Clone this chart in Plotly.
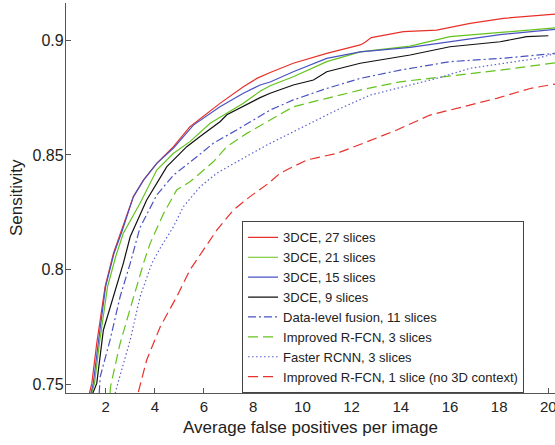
import plotly.graph_objects as go

# ---- data ----
names = [
    "3DCE, 27 slices",
    "3DCE, 21 slices",
    "3DCE, 15 slices",
    "3DCE, 9 slices",
    "Data-level fusion, 11 slices",
    "Improved R-FCN, 3 slices",
    "Faster RCNN, 3 slices",
    "Improved R-FCN, 1 slice (no 3D context)",
]

fp_3dce27 = [1.34, 1.44, 1.64, 1.98, 2.32, 2.66, 3.13, 3.54, 4.08, 4.76, 5.43, 6.65, 7.6, 8.15, 8.69, 9.63,
             10.99, 12.35, 12.55, 12.8, 13.7, 14.11, 15.46, 16.82, 18.17, 19.8, 20.3]
se_3dce27 = [0.746, 0.7503, 0.7678, 0.7925, 0.8071, 0.8172, 0.8318, 0.839, 0.8463, 0.8536, 0.8623, 0.8725, 0.8798,
             0.8834, 0.886, 0.89, 0.8943, 0.898, 0.8992, 0.9012, 0.903, 0.9038, 0.9045, 0.9074, 0.9096, 0.9113, 0.9115]

fp_3dce21 = [1.43, 1.55, 1.75, 2.08, 2.42, 2.72, 3.4, 4.08, 4.76, 5.43, 6.25, 7.6, 8.28, 8.69, 9.63, 10.99,
             12.35, 14.38, 16.0, 18.04, 20.3]
se_3dce21 = [0.746, 0.7503, 0.7678, 0.7925, 0.806, 0.8158, 0.8289, 0.8434, 0.8507, 0.8558, 0.8638, 0.8725, 0.8778,
             0.8802, 0.8841, 0.8907, 0.895, 0.8975, 0.9016, 0.9035, 0.9055]

fp_3dce15 = [1.4, 1.5, 1.7, 2.0, 2.34, 2.66, 3.13, 3.54, 4.08, 4.76, 5.57, 6.65, 7.6, 8.28, 8.69, 9.63, 10.99,
             12.35, 14.38, 16.0, 18.04, 20.3]
se_3dce15 = [0.746, 0.7503, 0.7678, 0.7925, 0.807, 0.8165, 0.8318, 0.839, 0.8463, 0.853, 0.863, 0.871, 0.8769,
             0.8805, 0.8818, 0.8863, 0.8921, 0.895, 0.8969, 0.8994, 0.9025, 0.9048]

fp_3dce9 = [1.48, 1.64, 1.91, 2.32, 2.72, 3.0, 3.67, 4.49, 5.3, 5.84, 6.65, 6.93, 8.28, 8.69, 9.63, 10.45,
            10.99, 12.35, 14.38, 16.0, 18.04, 19.12, 20.0]
se_3dce9 = [0.746, 0.7503, 0.7736, 0.7881, 0.8027, 0.8143, 0.8303, 0.8449, 0.8536, 0.858, 0.8645, 0.8675, 0.875,
            0.8769, 0.8805, 0.8827, 0.8863, 0.89, 0.8936, 0.8972, 0.8994, 0.9016, 0.902]

fp_fusion11 = [1.74, 1.78, 2.18, 2.59, 3.0, 3.4, 4.08, 4.76, 5.71, 6.38, 7.33, 8.01, 8.69, 9.63, 10.99,
               12.35, 13.97, 16.0, 18.04, 20.3]
se_fusion11 = [0.746, 0.7532, 0.7692, 0.7881, 0.8027, 0.8183, 0.8325, 0.8412, 0.8492, 0.8551, 0.8609, 0.8652,
               0.8696, 0.874, 0.879, 0.8834, 0.887, 0.8907, 0.8921, 0.8943]

fp_rfcn3 = [2.18, 2.2, 2.59, 3.13, 3.54, 3.81, 4.36, 4.89, 5.43, 6.38, 6.93, 7.74, 8.69, 9.63, 10.99, 12.35,
            13.97, 16.0, 18.04, 20.3]
se_rfcn3 = [0.746, 0.7489, 0.7678, 0.7881, 0.8027, 0.8114, 0.8245, 0.8347, 0.8383, 0.847, 0.8536, 0.8594,
            0.8652, 0.871, 0.8747, 0.8783, 0.8819, 0.8844, 0.887, 0.8902]

fp_faster3 = [2.39, 2.46, 3.0, 3.4, 3.88, 4.22, 4.76, 5.16, 5.84, 6.52, 7.47, 8.55, 10.04, 11.4, 12.75, 14.11,
              15.46, 16.82, 18.17, 19.53, 20.3]
se_faster3 = [0.746, 0.7489, 0.7692, 0.7881, 0.8027, 0.8093, 0.8187, 0.8274, 0.8361, 0.842, 0.8478, 0.8543,
              0.8623, 0.8696, 0.8761, 0.8798, 0.8834, 0.8878, 0.89, 0.8921, 0.8943]

fp_rfcn1 = [3.33, 3.67, 4.22, 4.89, 5.43, 6.11, 6.52, 7.2, 7.87, 8.62, 9.09, 10.18, 11.4, 12.48, 13.84, 15.19,
            16.55, 17.9, 19.26, 20.3]
se_rfcn1 = [0.7465, 0.7605, 0.775, 0.7881, 0.7998, 0.8107, 0.8172, 0.826, 0.8318, 0.8376, 0.842, 0.8478, 0.8507,
            0.8551, 0.8609, 0.8674, 0.871, 0.8747, 0.879, 0.881]

x_ticks = [2, 4, 6, 8, 10, 12, 14, 16, 18, 20]
y_ticks = [0.75, 0.8, 0.85, 0.9]
y_tick_text = ["0.75", "0.8", "0.85", "0.9"]

series = [
    (fp_3dce27, se_3dce27, "#e8302a", "solid"),
    (fp_3dce21, se_3dce21, "#64c31c", "solid"),
    (fp_3dce15, se_3dce15, "#4a52c2", "solid"),
    (fp_3dce9, se_3dce9, "#111111", "solid"),
    (fp_fusion11, se_fusion11, "#4a52c2", "8px,3px,2px,3px"),
    (fp_rfcn3, se_rfcn3, "#64c31c", "10px,5px"),
    (fp_faster3, se_faster3, "#5a62cc", "1.5px,2.5px"),
    (fp_rfcn1, se_rfcn1, "#e8302a", "10px,5px"),
]

FONT = "Arial, Liberation Sans, Helvetica, sans-serif"

fig = go.Figure()
for name, (xs, ys, col, dash) in zip(names, series):
    fig.add_trace(go.Scatter(x=xs, y=ys, mode="lines", name=name,
                             line=dict(color=col, width=1.2, dash=dash)))

fig.update_layout(
    width=555, height=445,
    margin=dict(l=66, r=0, t=3, b=52),
    paper_bgcolor="white", plot_bgcolor="white",
    font=dict(family=FONT, size=14, color="#222"),
    showlegend=True,
    legend=dict(x=0.36, y=0.44, xanchor="left", yanchor="top",
                bgcolor="white", bordercolor="#444", borderwidth=1,
                font=dict(family=FONT, size=13, color="#222"),
                tracegroupgap=0),
    annotations=[dict(text="Sensitivity", xref="paper", yref="paper", x=0, y=0.5,
                      xshift=-50, textangle=-90, showarrow=False,
                      xanchor="center", yanchor="middle",
                      font=dict(family=FONT, size=17, color="#222"))],
)
fig.update_xaxes(
    range=[0.39, 20.27], tickvals=x_ticks, ticks="inside", ticklen=5,
    tickcolor="#555", showline=True, linecolor="#555", linewidth=1.3,
    showgrid=False, zeroline=False, tickfont=dict(size=15, color="#222"),
    automargin=False, ticklabeloverflow="allow",
    title=dict(text="Average false positives per image", font=dict(size=17, color="#222"), standoff=6),
)
fig.update_yaxes(
    range=[0.7461, 0.9163], tickvals=y_ticks, ticktext=y_tick_text, ticks="inside", ticklen=5,
    tickcolor="#555", showline=True, linecolor="#555", linewidth=1.3,
    showgrid=False, zeroline=False, tickfont=dict(size=16, color="#222"),
    automargin=False, ticklabelstandoff=-2,
)

fig.write_html("out.html", config={"displayModeBar": False},
               post_script="document.body.style.margin='0';document.body.style.overflow='hidden';")
